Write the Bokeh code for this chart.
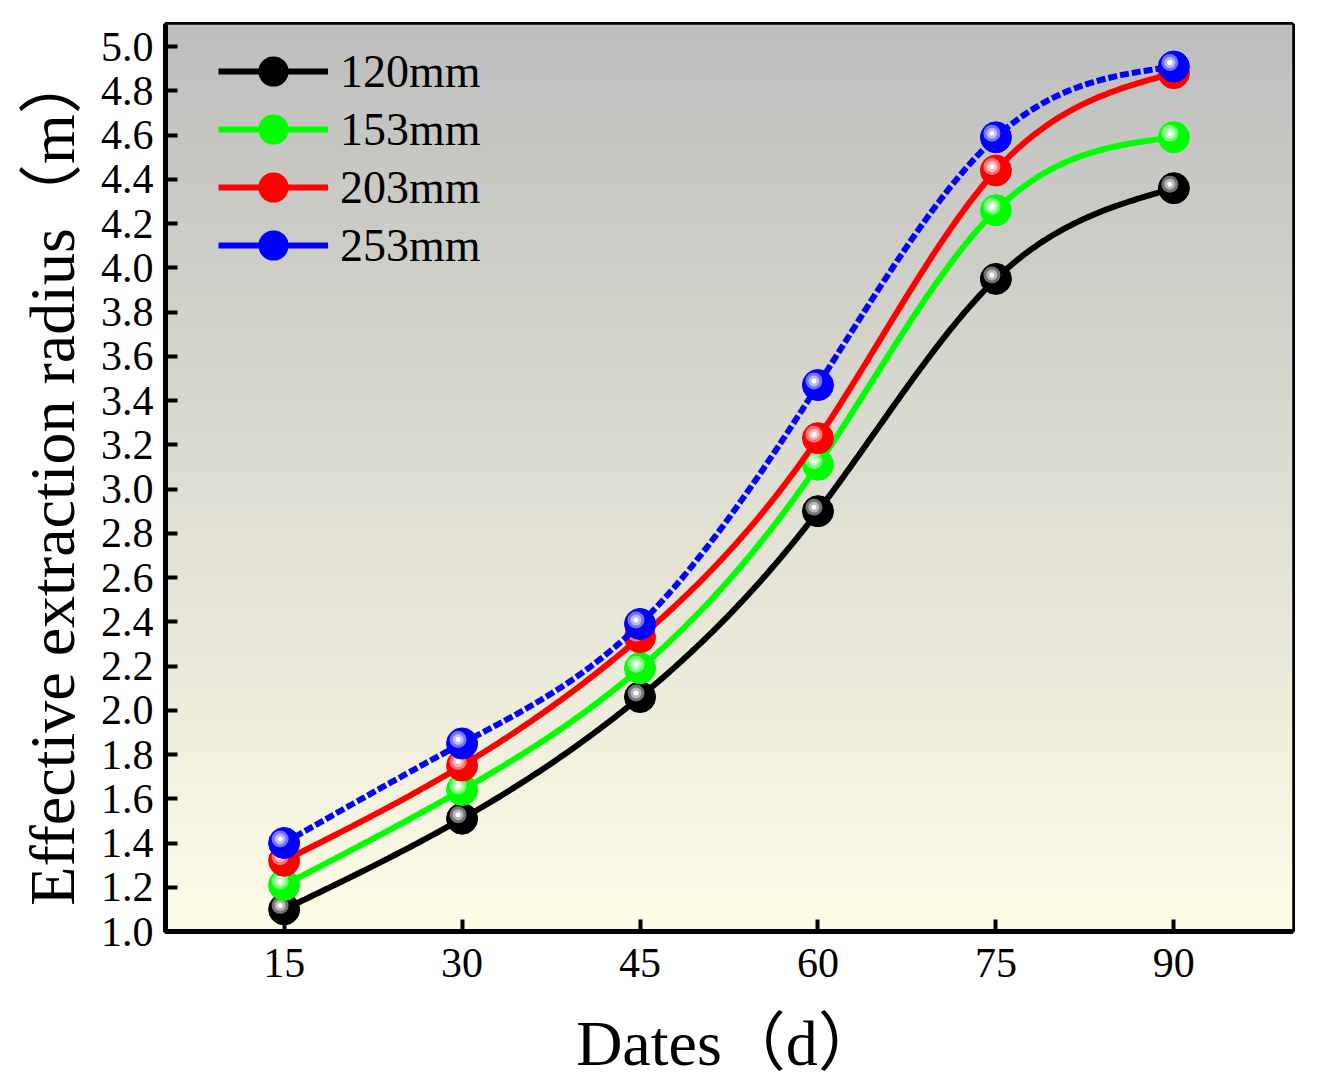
import numpy as np
from bokeh.plotting import figure
from bokeh.models import ColumnDataSource, FixedTicker, PrintfTickFormatter, Legend, LegendItem, Range1d
from bokeh.embed import file_html
from bokeh.resources import INLINE

# data
days = [15, 30, 45, 60, 75, 90]
r_120 = [1.10, 1.51, 2.06, 2.90, 3.95, 4.36]
r_153 = [1.21, 1.64, 2.19, 3.11, 4.26, 4.59]
r_203 = [1.32, 1.75, 2.33, 3.23, 4.44, 4.88]
r_253 = [1.40, 1.85, 2.39, 3.47, 4.59, 4.91]
labels = ["120mm", "153mm", "203mm", "253mm"]
colors = ["#000000", "#00ff00", "#ff0000", "#0000ff"]
dashes = ["solid", "solid", "solid", "9 3"]
x_ticks = [15, 30, 45, 60, 75, 90]
y_ticks = [1.0, 1.2, 1.4, 1.6, 1.8, 2.0, 2.2, 2.4, 2.6, 2.8, 3.0,
           3.2, 3.4, 3.6, 3.8, 4.0, 4.2, 4.4, 4.6, 4.8, 5.0]

X0, X1 = 5, 100
Y0, Y1 = 1.0, 5.1
FRAME_W, FRAME_H = 1127, 907
SERIF = "Liberation Serif, 'Noto Sans CJK SC'"


def spline(xs, ys, num=300):
    # natural cubic spline, like Origin's "spline" connect
    xs = np.asarray(xs, float)
    ys = np.asarray(ys, float)
    n = len(xs)
    h = np.diff(xs)
    A = np.zeros((n, n))
    b = np.zeros(n)
    A[0, 0] = A[-1, -1] = 1
    for i in range(1, n - 1):
        A[i, i - 1] = h[i - 1]
        A[i, i] = 2 * (h[i - 1] + h[i])
        A[i, i + 1] = h[i]
        b[i] = 6 * ((ys[i + 1] - ys[i]) / h[i] - (ys[i] - ys[i - 1]) / h[i - 1])
    M = np.linalg.solve(A, b)
    xx = np.linspace(xs[0], xs[-1], num)
    k = np.clip(np.searchsorted(xs, xx) - 1, 0, n - 2)
    hk = xs[k + 1] - xs[k]
    t1 = xs[k + 1] - xx
    t0 = xx - xs[k]
    yy = (M[k] * t1 ** 3 + M[k + 1] * t0 ** 3) / (6 * hk) \
        + (ys[k] / hk - M[k] * hk / 6) * t1 + (ys[k + 1] / hk - M[k + 1] * hk / 6) * t0
    return xx, yy


def tint(hex_color, f):
    c = np.array([int(hex_color[i:i + 2], 16) for i in (1, 3, 5)], float)
    c = c + (255 - c) * f
    return "#%02x%02x%02x" % tuple(int(round(v)) for v in c)


p = figure(frame_width=FRAME_W, frame_height=FRAME_H, output_backend="svg", toolbar_location=None,
           x_range=Range1d(X0, X1), y_range=Range1d(Y0, Y1),
           min_border_left=165, min_border_right=16, min_border_top=24, min_border_bottom=10)
p.grid.visible = False
p.outline_line_color = "black"
p.outline_line_width = 5
p.border_fill_color = "white"

# vertical gradient background
rows = 512
t = np.linspace(0, 1, rows)[:, None]
bottom = np.array([254, 253, 230])
top = np.array([190, 190, 190])
rgb = bottom * (1 - t) + top * t
img = np.empty((rows, 1), dtype=np.uint32)
view = img.view(dtype=np.uint8).reshape((rows, 1, 4))
view[:, 0, 0] = rgb[:, 0]
view[:, 0, 1] = rgb[:, 1]
view[:, 0, 2] = rgb[:, 2]
view[:, 0, 3] = 255
p.image_rgba(image=[img], x=X0, y=Y0, dw=X1 - X0, dh=Y1 - Y0)

# sphere highlight offset, a few pixels up-left
dx = -4 * (X1 - X0) / FRAME_W
dy = 4 * (Y1 - Y0) / FRAME_H

items = []
for vals, lab, col, dash in zip([r_120, r_153, r_203, r_253], labels, colors, dashes):
    xx, yy = spline(days, vals)
    p.line(xx, yy, line_color=col, line_width=6, line_dash=dash)
    src = ColumnDataSource(dict(x=days, y=vals,
                                hx=[d + dx for d in days], hy=[v + dy for v in vals]))
    p.scatter("x", "y", source=src, size=31, fill_color=col, line_color=col)
    p.scatter("hx", "hy", source=src, size=17, fill_color=tint(col, 0.45), line_color=None)
    p.scatter("hx", "hy", source=src, size=11, fill_color=tint(col, 0.72), line_color=None)
    p.scatter("hx", "hy", source=src, size=5, fill_color="white", line_color=None)

    # legend swatch: solid line with a ball (nothing drawn in the plot area)
    blank = ColumnDataSource(dict(x=[np.nan], y=[np.nan]))
    lg_line = p.line("x", "y", source=blank, line_color=col, line_width=6)
    lg_dot = p.scatter("x", "y", source=blank, fill_color=col, line_color=col, line_width=7)
    items.append(LegendItem(label=lab, renderers=[lg_line, lg_dot]))

legend = Legend(items=items, location=(53, 657), glyph_width=110, glyph_height=58,
                spacing=0, padding=0, margin=0, label_standoff=12,
                label_text_font=SERIF, label_text_font_size="46px", label_text_color="black",
                border_line_alpha=0, background_fill_alpha=0)
p.add_layout(legend)

for ax in (p.xaxis, p.yaxis):
    ax.axis_line_width = 5
    ax.major_tick_in = 12
    ax.major_tick_out = 0
    ax.major_tick_line_width = 4
    ax.minor_tick_line_color = None
    ax.major_label_text_font = SERIF
    ax.major_label_text_font_size = "42px"
    ax.major_label_text_color = "black"
    ax.axis_label_text_font = SERIF
    ax.axis_label_text_font_size = "64px"
    ax.axis_label_text_font_style = "normal"
    ax.axis_label_text_color = "black"

p.xaxis.ticker = FixedTicker(ticks=x_ticks)
p.yaxis.ticker = FixedTicker(ticks=y_ticks)
p.yaxis.formatter = PrintfTickFormatter(format="%.1f")
p.xaxis.axis_label = "Dates（d）"
p.yaxis.axis_label = "Effective extraction radius（m）"
p.xaxis.major_label_standoff = 17
p.xaxis.axis_label_standoff = 28
p.yaxis.major_label_standoff = 12
p.yaxis.axis_label_standoff = 10

open("out.html", "w").write(file_html(p, INLINE))
